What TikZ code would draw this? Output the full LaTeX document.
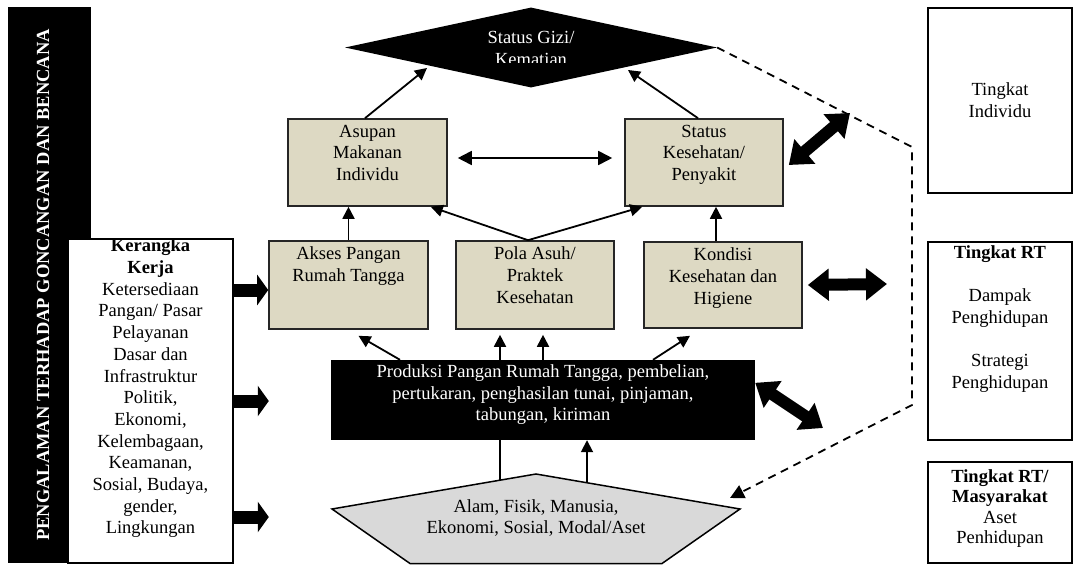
\documentclass[tikz,border=0pt]{standalone}
\usepackage{fontspec}
\setmainfont{Liberation Serif}
\usepackage{xcolor}
\usepackage{tikz}
\usetikzlibrary{arrows.meta,shapes.geometric}
\definecolor{tanbg}{RGB}{221,217,195}
\definecolor{asetgris}{RGB}{217,217,217}
\newcommand{\textoarriba}[3]{\parbox[c][#2][t]{#1}{\centering #3}}

\begin{document}
\begin{tikzpicture}[x=1pt, y=-1pt, font=\fontsize{18.5}{21.7}\selectfont]
    % Definición de estilos
    \tikzstyle{caja}=[draw=black!85, fill=tanbg, line width=1.6pt, inner xsep=3pt, inner ysep=6pt]
    \tikzstyle{nivel}=[draw=black, fill=white, line width=1.6pt, inner sep=0pt]
    \tikzstyle{flecha}=[line width=1.8pt, -{Triangle[length=12pt,width=12pt]}]
    \tikzstyle{doble}=[line width=1.8pt, {Triangle[length=14pt,width=14pt]}-{Triangle[length=14pt,width=14pt]}]
    \tikzstyle{gruesa}=[line width=12pt, {Triangle[length=21pt,width=31pt]}-{Triangle[length=21pt,width=31pt]}]
    \tikzstyle{bloque}=[line width=13pt, -{Triangle[length=11pt,width=30pt]}]
    \tikzstyle{punteada}=[line width=1.8pt, dash pattern=on 8pt off 6pt]
    \useasboundingbox (0,0) rectangle (1073,565);
    % Barra lateral negra con el texto vertical
    \fill[black] (8,7) rectangle (91,563);
    \node[text=white, rotate=90, font=\fontsize{18.5}{21.7}\selectfont\bfseries] (goncangan) at (43,285) {PENGALAMAN TERHADAP GONCANGAN DAN BENCANA};
    % Marco de trabajo a la izquierda
    \node[nivel] (kerangka) at (150.5,401) {\textoarriba{165pt}{324pt}{\textbf{Kerangka}\\\textbf{Kerja}\\Ketersediaan\\Pangan/ Pasar\\Pelayanan\\Dasar dan\\Infrastruktur\\Politik,\\Ekonomi,\\Kelembagaan,\\Keamanan,\\Sosial, Budaya,\\gender,\\Lingkungan}};
    % Rombo superior (Status Gizi)
    \node[diamond, fill=black, minimum width=372pt, minimum height=80pt, inner sep=0pt] (gizi) at (531,47.5) {};
    \begin{scope}
        \clip (431,20) rectangle (631,62);
        \node[text=white, align=center, inner sep=0pt, anchor=north] (gizitexto) at (531,31) {Status Gizi/\\Kematian};
    \end{scope}
    % Cajas del nivel individual
    \node[caja] (asupan) at (367.5,162.5) {\textoarriba{153pt}{75pt}{Asupan\\Makanan\\Individu}};
    \node[caja] (status) at (704,162.5) {\textoarriba{152pt}{75pt}{Status\\Kesehatan/\\Penyakit}};
    % Cajas del nivel del hogar
    \node[caja] (akses) at (348.5,285) {\textoarriba{153pt}{76pt}{Akses Pangan\\Rumah Tangga}};
    \node[caja] (pola) at (535,285) {\textoarriba{152pt}{76pt}{Pola Asuh/\\Praktek\\Kesehatan}};
    \node[caja] (kondisi) at (723,285) {\textoarriba{152pt}{74pt}{Kondisi\\Kesehatan dan\\Higiene}};
    % Caja negra de producción
    \node[fill=black, text=white, inner xsep=0pt, inner ysep=4.5pt] (produksi) at (543,400) {\textoarriba{424pt}{71pt}{Produksi Pangan Rumah Tangga, pembelian,\\pertukaran, penghasilan tunai, pinjaman,\\tabungan, kiriman}};
    % Pentágono de activos
    \coordinate (pL) at (332,509);
    \coordinate (pT) at (536,474);
    \coordinate (pR) at (740,509);
    \coordinate (pBR) at (662,563.5);
    \coordinate (pBL) at (410,563.5);
    \filldraw[fill=asetgris, line width=1.5pt] (pL) -- (pT) -- (pR) -- (pBR) -- (pBL) -- cycle;
    \node[align=center, inner sep=0pt] (aset) at (536,518) {Alam, Fisik, Manusia,\\Ekonomi, Sosial, Modal/Aset};
    % Cajas de niveles a la derecha
    \node[nivel, minimum width=144pt, minimum height=185pt, align=center] (individu) at (1000,100.5) {Tingkat\\Individu};
    \node[nivel, inner ysep=3.5pt] (rt) at (1000,341) {\textoarriba{144pt}{191pt}{\textbf{Tingkat RT}\\[21.7pt]Dampak\\Penghidupan\\[21.7pt]Strategi\\Penghidupan}};
    \node[nivel, inner ysep=7.75pt, font=\fontsize{18.5}{20.3}\selectfont] (masyarakat) at (1000,512.5) {\textoarriba{144pt}{85.5pt}{\textbf{Tingkat RT/}\\\textbf{Masyarakat}\\Aset\\Penhidupan}};
    % Flechas hacia el estado nutricional
    \draw[flecha] ([xshift=-2.5pt]asupan.north) -- ([xshift=-104pt,yshift=-20.5pt]gizi.center);
    \draw[flecha] ([xshift=-6pt]status.north) -- ([xshift=97pt,yshift=-22.5pt]gizi.center);
    \draw[doble] ([xshift=10pt,yshift=4.5pt]asupan.east) -- ([xshift=-12pt,yshift=4.5pt]status.west);
    % Flechas desde el nivel del hogar
    \coordinate (kondA) at ([xshift=-7pt]kondisi.north);
    \draw[flecha] (akses.north) -- (akses.north |- asupan.south);
    \draw[flecha] (kondA) -- (kondA |- status.south);
    \draw[flecha] ([xshift=-7pt]pola.north) -- ([xshift=-17pt]asupan.south east);
    \draw[flecha] ([xshift=-7pt]pola.north) -- ([xshift=18pt]status.south west);
    % Flechas desde la producción
    \draw[flecha] ([xshift=-143pt]produksi.north) -- ([xshift=10pt,yshift=-6pt]akses.south);
    \draw[flecha] ([xshift=-43pt]produksi.north) -- ([xshift=-43pt,yshift=25pt]produksi.north);
    \draw[flecha] (produksi.north) -- ([yshift=25pt]produksi.north);
    \draw[flecha] ([xshift=110pt]produksi.north) -- ([xshift=-33pt,yshift=-7pt]kondisi.south);
    % Conexiones desde el pentágono
    \coordinate (asetA) at (500,480);
    \coordinate (asetB) at (587,483);
    \draw[line width=1.8pt] (asetA) -- (asetA |- produksi.south);
    \draw[flecha] (asetB) -- (asetB |- produksi.south);
    % Flechas gruesas del marco de trabajo
    \draw[bloque] ([yshift=111pt]kerangka.east) -- ([yshift=-5pt]akses.west);
    \draw[bloque] (kerangka.east) -- ([xshift=35pt]kerangka.east);
    \draw[bloque] ([yshift=-116pt]kerangka.east) -- ([xshift=35pt,yshift=-116pt]kerangka.east);
    % Línea punteada que separa los niveles
    \coordinate (hexA) at (850,113);
    \coordinate (hexB) at (912,147);
    \coordinate (hexC) at (912,405);
    \coordinate (asetTip) at (730,498);
    \draw[punteada, -{Triangle[length=14pt,width=14pt]}] (gizi.east) -- (hexB) -- (hexC) -- (asetTip);
    % Flechas dobles gruesas hacia la línea punteada
    \coordinate (rtA) at (887,284);
    \coordinate (rtB) at (823,428);
    \draw[gruesa] ([xshift=5pt,yshift=-2.5pt]status.east) -- (hexA);
    \draw[gruesa] ([xshift=5pt]kondisi.east) -- (rtA);
    \draw[gruesa] ([yshift=-23pt]produksi.north east) -- (rtB);
\end{tikzpicture}
\end{document}
